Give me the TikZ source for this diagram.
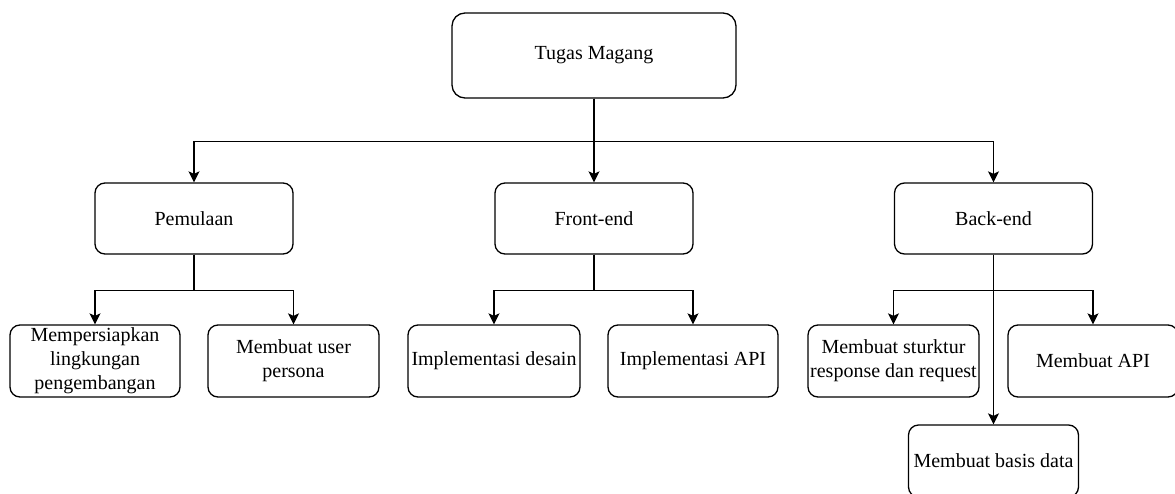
\documentclass[tikz,border=0pt]{standalone}
\usepackage{fontspec}
\setmainfont{Liberation Serif}
\usetikzlibrary{arrows.meta}
\begin{document}
\begin{tikzpicture}[x=1pt,y=-1pt,
  box/.style={draw=black, line width=1.3pt, rounded corners=10pt, fill=white,
    align=center, inner sep=0pt, font=\fontsize{20}{24}\selectfont,
    minimum width=#1, minimum height=72pt},
  box/.default=171pt,
  arr/.style={draw=black, line width=1.4pt, -{Stealth[length=11pt,width=11pt,inset=2.5pt]}}]
\useasboundingbox (0,0) rectangle (1175,493);
\clip (0,0) rectangle (1175,493);
\fill[white] (0,0) rectangle (1175,493);
% nodes
\node[box=284pt, minimum height=85pt, rounded corners=13pt] (top) at (594,55.5) {Tugas Magang};
\node[box=198pt, minimum height=71pt] (pem) at (194,218.5) {Pemulaan};
\node[box=198pt, minimum height=71pt] (fe) at (594,218.5) {Front-end};
\node[box=198pt, minimum height=71pt] (be) at (993.5,218.5) {Back-end};
\node[box=170pt] (c1) at (95,361) {Mempersiapkan\\lingkungan\\pengembangan};
\node[box=171pt] (c2) at (293.5,361) {Membuat user\\persona};
\node[box=172pt] (c3) at (494,361) {Implementasi desain};
\node[box=170pt] (c4) at (693,361) {Implementasi API};
\node[box=171pt] (c5) at (893.5,361) {Membuat sturktur\\response dan request};
\node[box=170pt] (c6) at (1093,361) {Membuat API};
\node[box=170pt] (c7) at (993.5,461) {Membuat basis data};
% connectors
\draw[arr] (top.south) -- ++(0,43) -| (pem.north);
\draw[arr] (top.south) -- (fe.north);
\draw[arr] (top.south) -- ++(0,43) -| (be.north);
\draw[arr] (pem.south) -- ++(0,36) -| (c1.north);
\draw[arr] (pem.south) -- ++(0,36) -| (c2.north);
\draw[arr] (fe.south) -- ++(0,36) -| (c3.north);
\draw[arr] (fe.south) -- ++(0,36) -| (c4.north);
\draw[arr] (be.south) -- ++(0,36) -| (c5.north);
\draw[arr] (be.south) -- ++(0,36) -| (c6.north);
\draw[arr] (be.south) -- (c7.north);
\end{tikzpicture}
\end{document}
